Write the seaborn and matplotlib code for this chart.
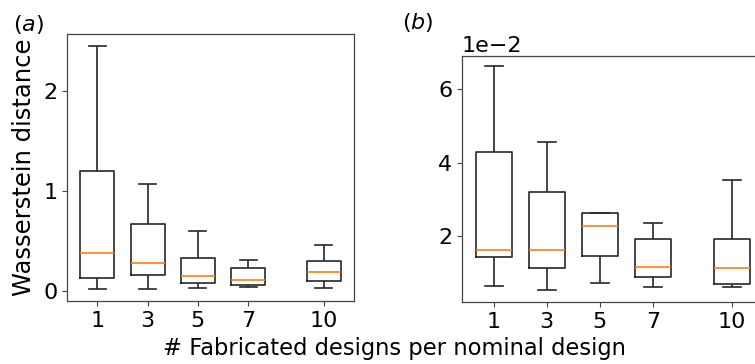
import numpy as np
import pandas as pd
import matplotlib
matplotlib.use("Agg")
import matplotlib.pyplot as plt
import seaborn as sns

# number of fabricated designs per nominal design
counts = [1, 3, 5, 7, 10]

# panel (a): five-number summaries (min, q1, median, q3, max)
a_min = [0.020, 0.020, 0.024, 0.037, 0.024]
a_q1 = [0.124, 0.157, 0.074, 0.060, 0.097]
a_med = [0.380, 0.275, 0.147, 0.107, 0.184]
a_q3 = [1.200, 0.672, 0.325, 0.225, 0.300]
a_max = [2.450, 1.067, 0.600, 0.305, 0.461]

# panel (b): five-number summaries, in units of 1e-2
b_min = [0.645, 0.55, 0.74, 0.63, 0.63]
b_q1 = [1.44, 1.15, 1.47, 0.90, 0.72]
b_med = [1.63, 1.64, 2.28, 1.17, 1.15]
b_q3 = [4.28, 3.19, 2.62, 1.94, 1.94]
b_max = [6.61, 4.55, 2.62, 2.35, 3.53]
b_scale = 1e-2


def long_frame(mins, q1s, meds, q3s, maxs, scale=1.0):
    rows = []
    for i, n in enumerate(counts):
        for v in (mins[i], q1s[i], meds[i], q3s[i], maxs[i]):
            rows.append({"n": n, "val": v * scale})
    return pd.DataFrame(rows)


df_a = long_frame(a_min, a_q1, a_med, a_q3, a_max)
df_b = long_frame(b_min, b_q1, b_med, b_q3, b_max, b_scale)

W, H = 755, 364
fig = plt.figure(figsize=(W / 100, H / 100), dpi=100)
FS = 16
plt.rcParams["font.size"] = FS

ax_a = fig.add_axes([67 / W, 1 - 301 / H, 287 / W, 267 / H])
ax_b = fig.add_axes([462 / W, 1 - 302 / H, 302 / W, 246 / H])

line_c = "#262626"
for ax, df in ((ax_a, df_a), (ax_b, df_b)):
    sns.boxplot(data=df, x="n", y="val", native_scale=True, fill=False,
                color=line_c, width=0.675, whis=(0, 100), linewidth=1.2,
                medianprops={"color": "#ff7f0e", "linewidth": 1.2},
                ax=ax)
    ax.set_xticks(counts)
    ax.set_xticklabels([str(c) for c in counts])
    ax.set_xlim(-0.2, 11.2)
    ax.set_xlabel("")
    ax.set_ylabel("")
    ax.tick_params(labelsize=FS, color="#444444")
    for sp in ax.spines.values():
        sp.set_color("#444444")
        sp.set_linewidth(0.9)

ax_a.set_ylim(-0.103, 2.575)
ax_a.set_yticks([0, 1, 2])

ax_b.set_ylim(0.0022, 0.0689)
ax_b.set_yticks([0.02, 0.04, 0.06])
ax_b.ticklabel_format(axis="y", style="sci", scilimits=(0, 0))
ax_b.yaxis.get_offset_text().set_fontsize(FS)

fig.text(13 / W, 1 - 24 / H, r"$(a)$", fontsize=FS, ha="left", va="center")
fig.text(402 / W, 1 - 22 / H, r"$(b)$", fontsize=FS, ha="left", va="center")
fig.text(24 / W, 1 - 167 / H, "Wasserstein distance", rotation=90,
         fontsize=17.5, ha="center", va="center")
fig.text(394 / W, 1 - 349 / H, "# Fabricated designs per nominal design",
         fontsize=16.3, ha="center", va="center")

fig.savefig("out.png", dpi=100)
